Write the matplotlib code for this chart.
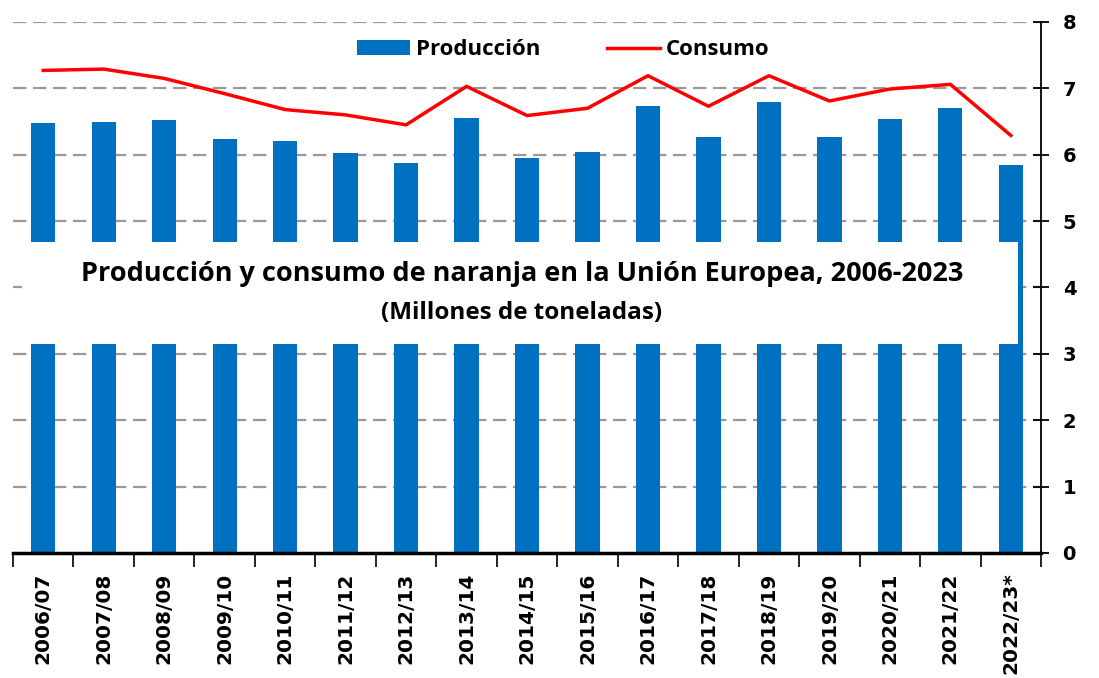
import numpy as np
import matplotlib
matplotlib.use("Agg")
import matplotlib.pyplot as plt
from matplotlib.patches import Rectangle

# Datos (millones de toneladas)
campanas = ["2006/07", "2007/08", "2008/09", "2009/10", "2010/11", "2011/12",
            "2012/13", "2013/14", "2014/15", "2015/16", "2016/17", "2017/18",
            "2018/19", "2019/20", "2020/21", "2021/22", "2022/23*"]
produccion = [6.48, 6.49, 6.53, 6.24, 6.20, 6.02, 5.88, 6.55, 5.95,
              6.04, 6.73, 6.27, 6.79, 6.27, 6.54, 6.71, 5.85]
consumo = [7.27, 7.29, 7.15, 6.92, 6.68, 6.60, 6.45, 7.03, 6.59,
           6.70, 7.19, 6.73, 7.19, 6.81, 6.99, 7.06, 6.29]
yticks = [0, 1, 2, 3, 4, 5, 6, 7, 8]

azul = "#0070C0"
font_txt = "Open Sans"

fig = plt.figure(figsize=(10.99, 6.78), dpi=100)
ax = fig.add_axes([0.0118, 0.1844, 0.9355, 0.7832])

x = np.arange(len(campanas))
barras = ax.bar(x, produccion, width=0.4, color=azul, zorder=2, label="Producción")
linea, = ax.plot(x, consumo, color="red", lw=2.5, zorder=3, label="Consumo")

ax.set_xlim(-0.5, len(campanas) - 0.5)
ax.set_ylim(0, 8)

# grid
for v in yticks[1:]:
    ax.axhline(v, color="#999999", lw=1.6, ls=(0, (6, 3)), zorder=1)

# ejes
for s in ["top", "left"]:
    ax.spines[s].set_visible(False)
ax.spines["right"].set_linewidth(1.3)
ax.spines["bottom"].set_linewidth(2.5)
ax.yaxis.tick_right()
ax.set_yticks(yticks)
ax.set_yticklabels([str(v) for v in yticks], fontsize=14, fontweight="bold",
                   family="DejaVu Sans")
ax.tick_params(axis="y", direction="inout", length=11, width=1.3, pad=10)

ax.set_xticks(x)
ax.set_xticklabels(campanas, rotation=90, fontsize=14.5, fontweight="bold",
                   family="DejaVu Sans")
ax.set_xticks(np.arange(-0.5, len(campanas)), minor=True)
ax.tick_params(axis="x", which="major", length=0, pad=14)
ax.tick_params(axis="x", which="minor", length=10, width=1.2, direction="out")

# caja blanca del titulo
ax.add_patch(Rectangle((0.009, 0.3935), 0.969, 0.1925, transform=ax.transAxes,
                       facecolor="white", edgecolor="none", zorder=4))
ax.text(0.495, 0.525, "Producción y consumo de naranja en la Unión Europea, 2006-2023",
        transform=ax.transAxes, ha="center", va="center", fontsize=19.5,
        fontweight="bold", family=font_txt, zorder=5)
ax.text(0.495, 0.452, "(Millones de toneladas)", transform=ax.transAxes,
        ha="center", va="center", fontsize=17.5, fontweight="bold",
        family=font_txt, zorder=5)

leg = ax.legend([barras, linea], ["Producción", "Consumo"],
                loc="upper center", bbox_to_anchor=(0.535, 1.005), ncol=2,
                frameon=False, prop={"family": font_txt, "weight": "bold", "size": 16},
                handlelength=2.4, handletextpad=0.25, columnspacing=3.0)

fig.savefig("out.png", dpi=100)
